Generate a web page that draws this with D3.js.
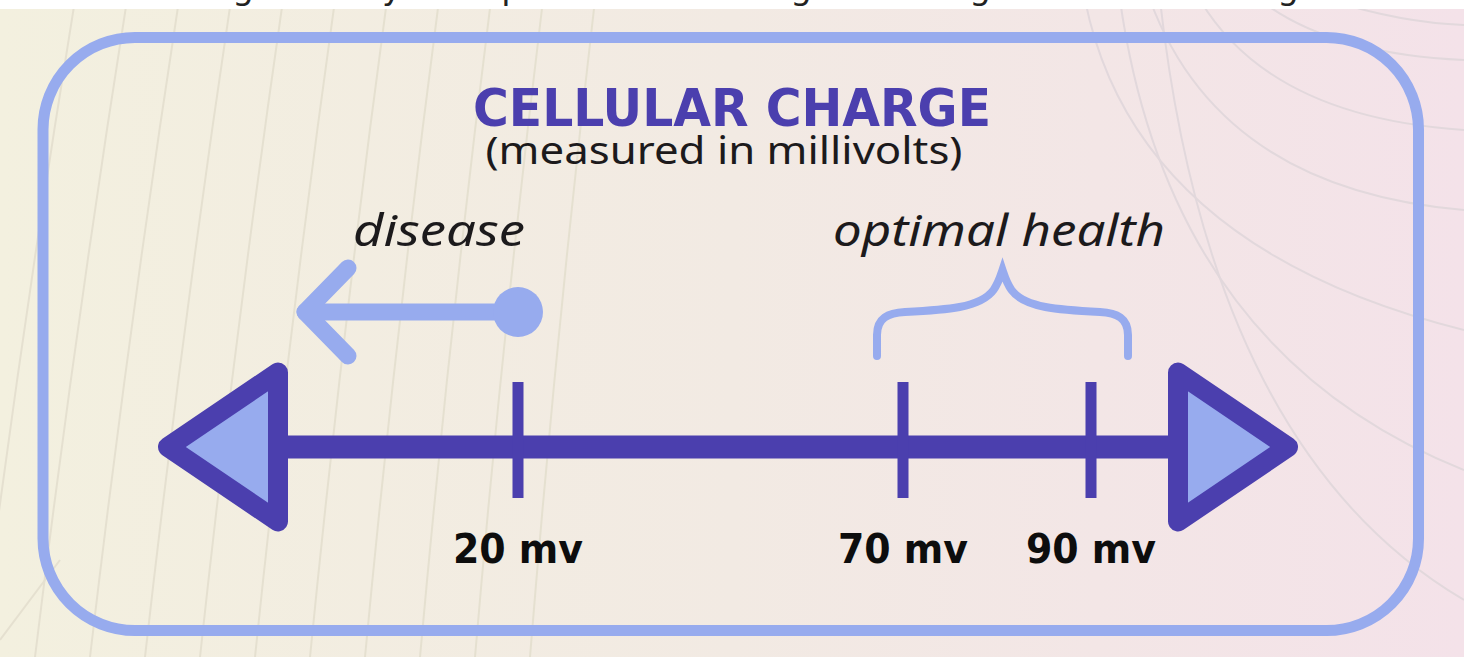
<!DOCTYPE html>
<html>
<head>
<meta charset="utf-8">
<script src="https://cdn.jsdelivr.net/npm/d3@7"></script>
<style>
  html, body { margin: 0; padding: 0; background: #fff; }
  svg { display: block; }
</style>
</head>
<body>
<svg id="chart" width="1464" height="657"></svg>
<script>
// chart data
const tickValues = [20, 70, 90];
const tickLabels = ["20 mv", "70 mv", "90 mv"];
const tickPixels = [518, 903, 1091];   // where each value sits on the (non-linear) drawn axis
const titleText = "CELLULAR CHARGE";
const subtitleText = "(measured in millivolts)";
const diseaseLabel = "disease";
const healthLabel = "optimal health";
const diseaseValue = 20;
const healthRange = [70, 90];

const W = 1464, H = 657;
const dark = "#4b3fae", light = "#97abee";

const svg = d3.select("#chart");

// x scale - piecewise linear, the picture is schematic
const x = d3.scaleLinear().domain(tickValues).range(tickPixels);

// background
const defs = svg.append("defs");
const grad = defs.append("linearGradient").attr("id", "bg").attr("x1", 0).attr("x2", 1).attr("y1", 0).attr("y2", 0);
grad.append("stop").attr("offset", "0%").attr("stop-color", "#f3f0df");
grad.append("stop").attr("offset", "50%").attr("stop-color", "#f2eae3");
grad.append("stop").attr("offset", "100%").attr("stop-color", "#f4e2e9");
svg.append("rect").attr("width", W).attr("height", H).attr("fill", "url(#bg)");

// faint decorative lines
const deco = svg.append("g").attr("fill", "none").attr("stroke-width", 2);
[-20, 35, 90, 145, 200, 255, 310, 365, 420, 475, 530].forEach((b, i) => {
  const t = b + 95 - i * 3;
  deco.append("path")
      .attr("d", `M${b},${H} Q${(b + t) / 2 - 6},${H / 2} ${t},0`)
      .attr("stroke", "#e5e0d0");
});
[[1085, 330], [1120, 470], [1160, 600]].forEach(([sx, ey]) => {
  deco.append("path")
      .attr("d", `M${sx},0 Q${sx + 50},${ey * 0.75} ${W},${ey}`)
      .attr("stroke", "#e2d8dc");
});
[[1150, 210], [1200, 130], [1260, 60], [1330, 25]].forEach(([sx, ey]) => {
  deco.append("path")
      .attr("d", `M${sx},0 Q${sx + 70},${ey * 0.9} ${W},${ey}`)
      .attr("stroke", "#e2d8dc");
});
deco.append("path").attr("d", `M0,640 Q30,600 60,560`).attr("stroke", "#e5e0d0");

// top white strip with cropped text descenders
svg.append("rect").attr("width", W).attr("height", 9).attr("fill", "#fff");
defs.append("clipPath").attr("id", "strip").append("rect").attr("width", W).attr("height", 9);
const strip = svg.append("g").attr("clip-path", "url(#strip)")
  .style("font-family", "DejaVu Sans, sans-serif").style("font-size", "34px").attr("fill", "#222");
[[243, "g"], [392, "y"], [512, "p"], [801, "g"], [980, "g"], [1288, "g"]].forEach(([gx, ch]) => {
  strip.append("text").attr("x", gx).attr("y", -1).attr("text-anchor", "middle").text(ch);
});

// rounded frame
svg.append("rect")
   .attr("x", 43).attr("y", 37.5)
   .attr("width", 1418.5 - 43).attr("height", 630.5 - 37.5)
   .attr("rx", 92).attr("ry", 92)
   .attr("fill", "none").attr("stroke", light).attr("stroke-width", 11);

// title
svg.append("text")
   .attr("x", 732).attr("y", 126)
   .attr("text-anchor", "middle")
   .attr("textLength", 518).attr("lengthAdjust", "spacingAndGlyphs")
   .style("font-family", "DejaVu Sans, sans-serif").style("font-weight", "bold").style("font-size", "51px")
   .attr("fill", dark)
   .text(titleText);

svg.append("text")
   .attr("x", 724).attr("y", 164)
   .attr("text-anchor", "middle")
   .attr("textLength", 477).attr("lengthAdjust", "spacingAndGlyphs")
   .style("font-family", "Noto Sans, sans-serif").style("font-size", "39px")
   .attr("fill", "#1c1a1c")
   .text(subtitleText);

// italic labels
const italic = svg.append("g")
   .style("font-family", "Noto Sans, sans-serif").style("font-style", "italic").style("font-size", "44px")
   .attr("fill", "#1c1a1c").attr("text-anchor", "middle");
italic.append("text").attr("x", 439).attr("y", 246)
   .attr("textLength", 172).attr("lengthAdjust", "spacingAndGlyphs").text(diseaseLabel);
italic.append("text").attr("x", 999).attr("y", 246)
   .attr("textLength", 332).attr("lengthAdjust", "spacingAndGlyphs").text(healthLabel);

// axis
const axisY = 447;
const axisLeft = 278, axisRight = 1178;   // bases of the arrowheads
svg.append("line")
   .attr("x1", axisLeft).attr("x2", axisRight)
   .attr("y1", axisY).attr("y2", axisY)
   .attr("stroke", dark).attr("stroke-width", 23);

// arrowheads
const headLen = 110, headHalf = 74.5;
svg.append("path")
   .attr("d", `M${axisLeft},${axisY - headHalf} L${axisLeft - headLen},${axisY} L${axisLeft},${axisY + headHalf} Z`)
   .attr("fill", light).attr("stroke", dark).attr("stroke-width", 20).attr("stroke-linejoin", "round");
svg.append("path")
   .attr("d", `M${axisRight},${axisY - headHalf} L${axisRight + headLen},${axisY} L${axisRight},${axisY + headHalf} Z`)
   .attr("fill", light).attr("stroke", dark).attr("stroke-width", 20).attr("stroke-linejoin", "round");

// ticks
svg.selectAll(".tick")
   .data(tickValues)
   .enter().append("line")
   .attr("class", "tick")
   .attr("x1", d => x(d)).attr("x2", d => x(d))
   .attr("y1", 382).attr("y2", 498)
   .attr("stroke", dark).attr("stroke-width", 11);

// tick labels
svg.selectAll(".tlabel")
   .data(tickValues)
   .enter().append("text")
   .attr("class", "tlabel")
   .attr("x", d => x(d)).attr("y", 563)
   .attr("text-anchor", "middle")
   .attr("textLength", 130).attr("lengthAdjust", "spacingAndGlyphs")
   .style("font-family", "DejaVu Sans, sans-serif").style("font-weight", "bold").style("font-size", "41px")
   .attr("fill", "#0d0d0d")
   .text((d, i) => tickLabels[i]);

// disease pointer
const dx = x(diseaseValue), dy = 312;
const pointer = svg.append("g").attr("stroke", light).attr("stroke-width", 17)
   .attr("stroke-linecap", "round").attr("stroke-linejoin", "round").attr("fill", "none");
pointer.append("line").attr("x1", dx).attr("x2", dx - 213).attr("y1", dy).attr("y2", dy);
pointer.append("path").attr("d", `M${dx - 170},${dy - 44} L${dx - 213},${dy} L${dx - 170},${dy + 44}`);
svg.append("circle").attr("cx", dx).attr("cy", dy).attr("r", 25).attr("fill", light);

// optimal health brace
const bl = x(healthRange[0]) - 26, br = x(healthRange[1]) + 37;
const bm = (bl + br) / 2;
const bTop = 270, bBar = 312, bEnd = 356;
svg.append("path")
   .attr("d", `M${bl},${bEnd} L${bl},${bEnd - 21} C${bl},${bBar + 6} ${bl + 11},${bBar + 1} ${bl + 28},${bBar}
               C${bm - 57},${bBar - 2} ${bm - 22},${bBar - 4} ${bm - 9},${bBar - 22}
               C${bm - 4},${bBar - 29} ${bm - 2},${bTop + 6} ${bm},${bTop}
               C${bm + 2},${bTop + 6} ${bm + 4},${bBar - 29} ${bm + 9},${bBar - 22}
               C${bm + 22},${bBar - 4} ${bm + 57},${bBar - 2} ${br - 28},${bBar}
               C${br - 11},${bBar + 1} ${br},${bBar + 6} ${br},${bEnd - 21} L${br},${bEnd}`)
   .attr("fill", "none").attr("stroke", light).attr("stroke-width", 8).attr("stroke-linecap", "round");
</script>
</body>
</html>
